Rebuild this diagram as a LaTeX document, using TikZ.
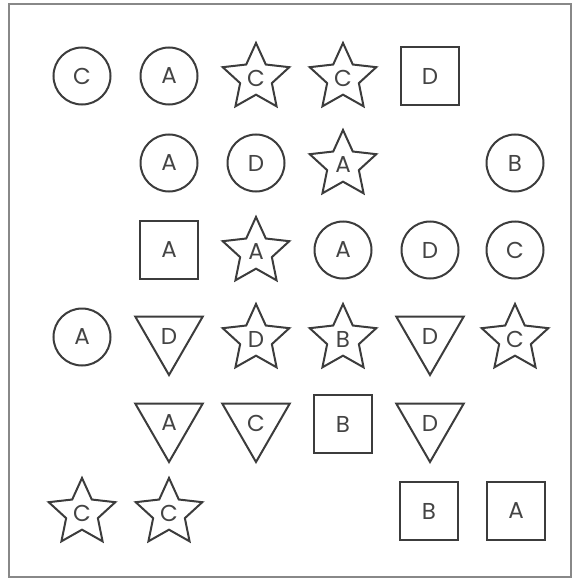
\documentclass[tikz,border=0pt]{standalone}
\usepackage{fontspec}
\setmainfont{Poppins}
\usetikzlibrary{shapes.geometric}
\definecolor{ShapeGray}{HTML}{3C3C3C}
\definecolor{TextGray}{HTML}{444444}
\definecolor{FrameGray}{HTML}{888888}
\tikzset{
  base/.style={draw=ShapeGray,line width=2pt,inner sep=0pt,
    font=\fontsize{23}{23}\selectfont\color{TextGray}},
  circbox/.style={base,circle,minimum size=57pt},
  sqbox/.style={base,rectangle,minimum size=58pt},
  starbox/.style={base,star,star points=5,star point ratio=2.1,minimum size=70pt},
  tribox/.style={base,regular polygon,regular polygon sides=3,
    shape border rotate=180,minimum size=78pt},
}
\begin{document}
\begin{tikzpicture}[x=1pt,y=-1pt]
  \useasboundingbox (0,0) rectangle (573,580);
  \draw[FrameGray,line width=2pt] (9,4) rectangle (571,577);
  % row 1
  \node[circbox] (r1c1) at ( 82, 76) {C};
  \node[circbox] (r1c2) at (169, 76) {A};
  \node[starbox] (r1c3) at (256, 78) {C};
  \node[starbox] (r1c4) at (343, 78) {C};
  \node[sqbox]   (r1c5) at (430, 76) {D};
  % row 2
  \node[circbox] (r2c2) at (169,163) {A};
  \node[circbox] (r2c3) at (256,163) {D};
  \node[starbox] (r2c4) at (343,165) {A};
  \node[circbox] (r2c6) at (515,163) {B};
  % row 3
  \node[sqbox]   (r3c2) at (169,250) {A};
  \node[starbox] (r3c3) at (256,252) {A};
  \node[circbox] (r3c4) at (343,250) {A};
  \node[circbox] (r3c5) at (430,250) {D};
  \node[circbox] (r3c6) at (515,250) {C};
  % row 4
  \node[circbox] (r4c1) at ( 82,337) {A};
  \node[tribox]  (r4c2) at (169,336) {D};
  \node[starbox] (r4c3) at (256,339) {D};
  \node[starbox] (r4c4) at (343,339) {B};
  \node[tribox]  (r4c5) at (430,336) {D};
  \node[starbox] (r4c6) at (515,339) {C};
  % row 5
  \node[tribox]  (r5c2) at (169,423) {A};
  \node[tribox]  (r5c3) at (256,423) {C};
  \node[sqbox]   (r5c4) at (343,424) {B};
  \node[tribox]  (r5c5) at (430,423) {D};
  % row 6
  \node[starbox] (r6c1) at ( 82,513) {C};
  \node[starbox] (r6c2) at (169,513) {C};
  \node[sqbox]   (r6c5) at (429,511) {B};
  \node[sqbox]   (r6c6) at (516,511) {A};
\end{tikzpicture}
\end{document}
